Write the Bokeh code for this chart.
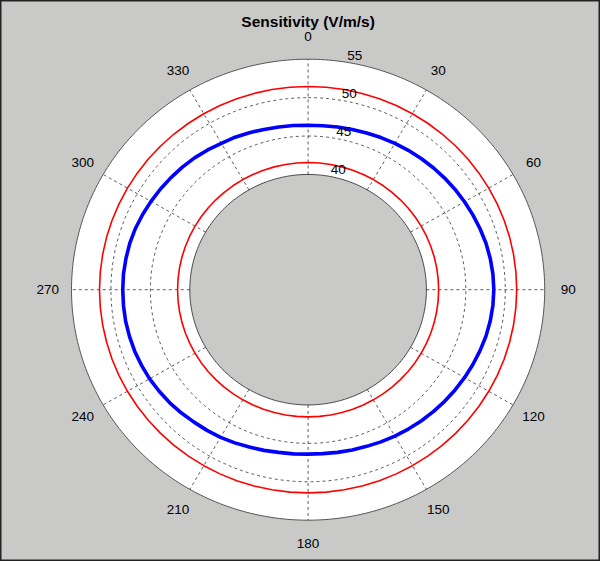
import numpy as np
from bokeh.plotting import figure
from bokeh.models import Range1d, Label
from bokeh.embed import file_html
from bokeh.resources import INLINE
from bokeh.core.properties import value

# ---------------- data ----------------
title_text = "Sensitivity (V/m/s)"
angle_ticks = [0, 30, 60, 90, 120, 150, 180, 210, 240, 270, 300, 330]
angle_tick_labels = ["0", "30", "60", "90", "120", "150", "180", "210", "240", "270", "300", "330"]
ring_values = [40, 45, 50, 55]
ring_labels = ["40", "45", "50", "55"]
r_origin = 25      # radial value at the centre of the plot
r_min = 40         # inner (grey) disc edge
r_max = 55         # outer circle

blue_angles = list(range(0, 365, 5))
blue_values = [46.4, 46.42, 46.5, 46.6, 46.7, 46.85, 47.0, 47.15, 47.3, 47.45, 47.6, 47.75,
               47.9, 48.05, 48.2, 48.35, 48.45, 48.52, 48.55, 48.52, 48.45, 48.35, 48.2, 48.05,
               47.9, 47.75, 47.6, 47.45, 47.3, 47.15, 47.0, 46.85, 46.7, 46.6, 46.5, 46.42,
               46.4, 46.45, 46.5, 46.65, 46.8, 47.0, 47.2, 47.35, 47.5, 47.7, 47.9, 48.05,
               48.2, 48.3, 48.4, 48.45, 48.5, 48.5, 48.5, 48.5, 48.45, 48.4, 48.3, 48.15,
               48.0, 47.85, 47.7, 47.55, 47.4, 47.2, 47.0, 46.9, 46.75, 46.6, 46.5, 46.45, 46.4]
red_angles = blue_angles
red_upper = [51.45] * len(red_angles)
red_lower = [41.55] * len(red_angles)

# ---------------- helpers ----------------
def to_xy(theta_deg, v):
    r = np.asarray(v, dtype=float) - r_origin
    t = np.deg2rad(np.asarray(theta_deg, dtype=float))
    return r * np.sin(t), r * np.cos(t)

W, H = 600, 561
cx, cy = 307.6, 289.2          # centre in canvas pixels (from top-left)
sx, sy = 7.887, 7.683          # pixels per radial unit
xr = Range1d(-cx / sx, (W - cx) / sx)
yr = Range1d(-(H - cy) / sy, cy / sy)

GREY = "#c9cac8"
p = figure(width=W, height=H, x_range=xr, y_range=yr, output_backend="svg",
           toolbar_location=None, x_axis_type=None, y_axis_type=None,
           min_border=0, background_fill_color=GREY, border_fill_color=GREY,
           outline_line_color="#222222", outline_line_width=2)
p.grid.visible = False

fine = np.linspace(0, 360, 361)

# white annulus and grey centre
ox, oy = to_xy(fine, np.full_like(fine, r_max))
p.patch(ox, oy, fill_color="white", line_color="#555555", line_width=1)
ix, iy = to_xy(fine, np.full_like(fine, r_min))
p.patch(ix, iy, fill_color=GREY, line_color="#444444", line_width=1)

# dashed rings
for rv in ring_values:
    if r_min < rv < r_max:
        gx, gy = to_xy(fine, np.full_like(fine, rv))
        p.line(gx, gy, line_color="#333333", line_width=0.8, line_dash="3 3")

# spokes
xs, ys = [], []
for a in angle_ticks:
    x0, y0 = to_xy([a, a], [r_min, r_max])
    xs.append(list(x0)); ys.append(list(y0))
p.multi_line(xs, ys, line_color="#333333", line_width=0.8, line_dash="3 3")

# data
ux, uy = to_xy(red_angles, red_upper)
p.line(ux, uy, line_color="#ff0000", line_width=1.6)
lx, ly = to_xy(red_angles, red_lower)
p.line(lx, ly, line_color="#ff0000", line_width=1.6)
bx, by = to_xy(blue_angles, blue_values)
p.line(bx, by, line_color="#0000ff", line_width=3.6, line_join="round")

# angle labels
tx, ty = to_xy(angle_ticks, np.full(len(angle_ticks), r_origin + 1.1 * (r_max - r_origin)))
p.text(x=tx, y=ty, text=angle_tick_labels, text_align="center", text_baseline="middle",
       text_font=value("Liberation Sans"), text_font_size="13.5px", text_color="black")

# ring labels (at 82 deg from horizontal)
rl_r = np.array(ring_values, dtype=float) + 0.25
rlx, rly = to_xy(np.full(len(ring_values), 8.0), rl_r)
p.text(x=rlx, y=rly, text=ring_labels, text_align="left", text_baseline="bottom", x_offset=6,
       text_font=value("Liberation Sans"), text_font_size="13.5px", text_color="black")

# title
p.add_layout(Label(x=cx, y=H - 21, x_units="screen", y_units="screen", text=title_text,
                   text_align="center", text_baseline="alphabetic",
                   text_font="Liberation Sans", text_font_style="bold", text_font_size="15.5px",
                   text_color="black"))

open("out.html", "w").write(file_html(p, INLINE))
